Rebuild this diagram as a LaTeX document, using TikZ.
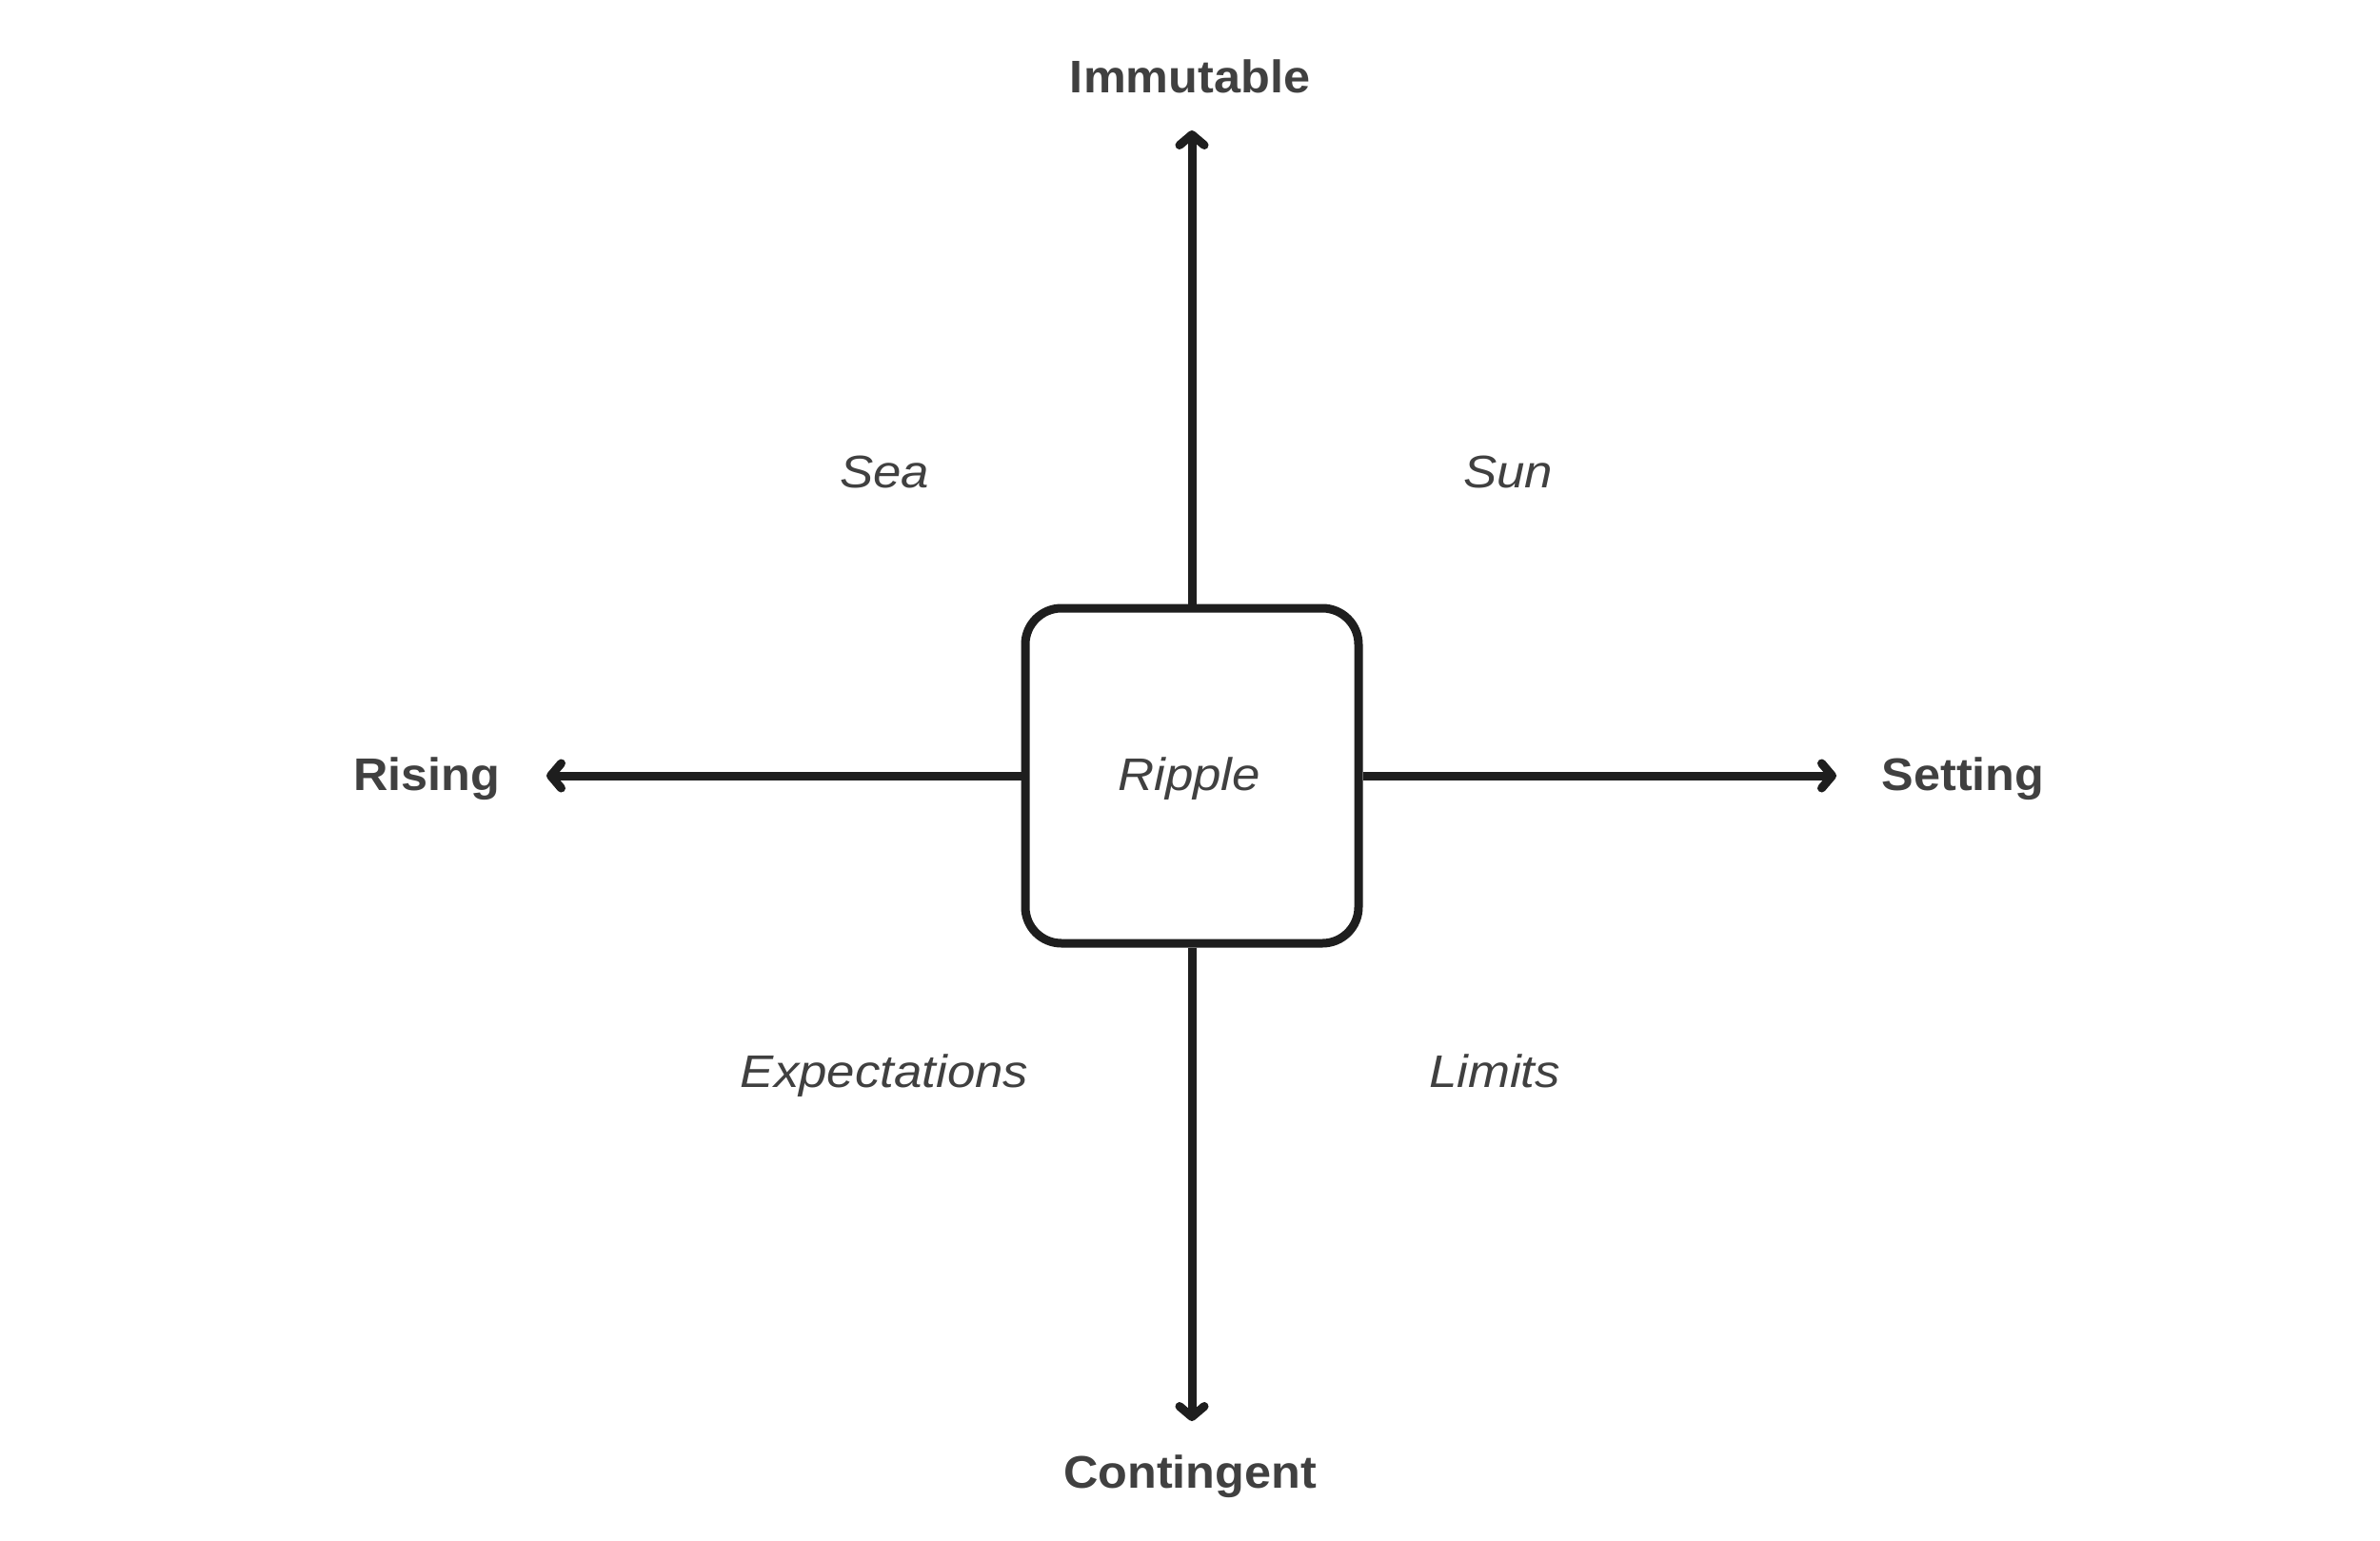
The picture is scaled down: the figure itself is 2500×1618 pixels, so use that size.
\documentclass[tikz,border=0pt]{standalone}
\usepackage{fontspec}
\setmainfont{Liberation Sans}
\newfontfamily\axisfont[FakeStretch=1.05]{Liberation Sans}
\newfontfamily\quadfont[FakeStretch=1.1]{Liberation Sans}
\usetikzlibrary{arrows.meta}
\definecolor{linec}{HTML}{1E1E1E}
\definecolor{textc}{HTML}{404040}
\begin{document}
\begin{tikzpicture}[x=1pt,y=-1pt,
  axislabel/.style={font=\axisfont\fontsize{48}{56}\selectfont\bfseries, text=textc, anchor=base, inner sep=0pt},
  quadlabel/.style={font=\quadfont\fontsize{48}{56}\selectfont\itshape, text=textc, anchor=base, inner sep=0pt},
  centerbox/.style={draw=linec, line width=9pt, rounded corners=38pt, minimum width=350pt, minimum height=352pt, fill=white},
  axisarrow/.style={draw=linec, line width=9pt, -{Straight Barb[length=11pt,width=26pt,line cap=round,line join=round]}}
]
\useasboundingbox[fill=white] (0,0) rectangle (2500,1618);
\node[centerbox] (box) at (1252,815) {};
\node[quadlabel] (ripple) at (1249,830) {Ripple};
\coordinate (ttip) at (1252,137);
\coordinate (btip) at (1252,1493);
\coordinate (ltip) at (574,815);
\coordinate (rtip) at (1929,815);
\draw[axisarrow] (box.north) -- (ttip);
\draw[axisarrow] (box.south) -- (btip);
\draw[axisarrow] (box.west) -- (ltip);
\draw[axisarrow] (box.east) -- (rtip);
\node[axislabel] (imm) at (1250,97) {Immutable};
\node[axislabel] (con) at (1250,1563) {Contingent};
\node[axislabel] (ris) at (448,830) {Rising};
\node[axislabel] (set) at (2062,830) {Setting};
\node[quadlabel] (sea) at (929,512) {Sea};
\node[quadlabel] (sun) at (1584,512) {Sun};
\node[quadlabel] (exp) at (929,1142) {Expectations};
\node[quadlabel] (lim) at (1570,1142) {Limits};
\end{tikzpicture}
\end{document}
